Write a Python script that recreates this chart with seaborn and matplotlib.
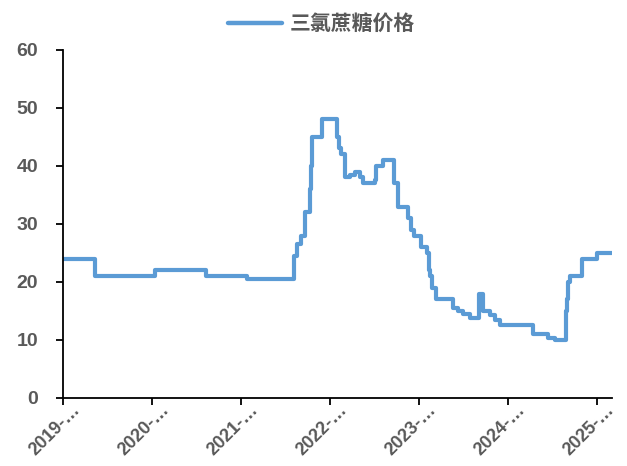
import pandas as pd
import matplotlib
matplotlib.use("Agg")
import matplotlib.pyplot as plt
import matplotlib.transforms as mtransforms
import seaborn as sns

# 三氯蔗糖价格 (万元/吨), 读自原图的台阶变化点
dates = [
    "2019-01-01", "2019-05-11", "2020-01-13", "2020-08-10", "2021-01-25",
    "2021-08-07", "2021-08-19", "2021-09-04", "2021-09-20", "2021-10-11",
    "2021-10-15", "2021-10-19", "2021-11-29", "2022-01-31", "2022-02-07",
    "2022-02-15", "2022-03-03", "2022-03-24", "2022-04-13", "2022-05-04",
    "2022-05-16", "2022-07-04", "2022-07-08", "2022-08-07", "2022-09-20",
    "2022-09-24", "2022-10-06", "2022-11-16", "2022-11-28", "2022-12-10",
    "2023-01-09", "2023-02-02", "2023-02-10", "2023-02-14", "2023-02-22",
    "2023-03-10", "2023-05-19", "2023-06-09", "2023-06-29", "2023-07-28",
    "2023-09-03", "2023-09-20", "2023-10-19", "2023-11-08", "2023-11-28",
    "2024-04-12", "2024-06-13", "2024-07-12", "2024-08-26", "2024-08-30",
    "2024-09-03", "2024-09-12", "2024-10-31", "2025-01-01", "2025-03-03",
]
prices = [
    24, 21, 22, 21, 20.5,
    24.5, 26.5, 28, 32, 36,
    40, 45, 48, 45, 43,
    42, 38, 38.5, 39, 38,
    37, 37.5, 40, 41, 37,
    37, 33, 31, 29, 28,
    26, 25, 22, 21, 19,
    17, 15.5, 15, 14.5, 13.8,
    18, 15, 14.3, 13.5, 12.5,
    11, 10.3, 10, 15, 17,
    20, 21, 24, 25, 25,
]
year_ticks = ["2019", "2020", "2021", "2022", "2023", "2024", "2025"]
y_ticks = [0, 10, 20, 30, 40, 50, 60]

df = pd.DataFrame({"date": pd.to_datetime(dates), "price": prices})

sns.set_style("white")
plt.rcParams["font.family"] = ["Liberation Sans", "DejaVu Sans"]

fig = plt.figure(figsize=(6.27, 4.66), dpi=100)
ax = fig.add_axes([0.1005, 0.146, 0.8755, 0.747])

sns.lineplot(data=df, x="date", y="price", ax=ax, color="#5B9BD5",
             linewidth=3.0, drawstyle="steps-post", label="三氯蔗糖价格")

ax.set_xlim(pd.Timestamp("2019-01-01"), pd.Timestamp("2025-03-03"))
ax.set_ylim(0, 60)
ax.set_yticks(y_ticks)
ax.set_xticks([pd.Timestamp(y + "-01-01") for y in year_ticks])
ax.set_xticklabels([y + "-…" for y in year_ticks])
ax.set_xlabel("")
ax.set_ylabel("")

sns.despine(ax=ax)
for side in ["left", "bottom"]:
    ax.spines[side].set_color("black")
    ax.spines[side].set_linewidth(1.3)
ax.tick_params(axis="both", direction="out", length=5, width=1.3,
               color="black", left=True, bottom=True)
ax.tick_params(axis="y", pad=13)
ax.tick_params(axis="x", pad=2)

# tick_params 会重置变换, 所以放在后面: 标签右移, 与原图一致
shift = mtransforms.ScaledTranslation(15 / 100, 0, fig.dpi_scale_trans)
for lab in ax.get_xticklabels():
    lab.set_fontsize(13)
    lab.set_fontweight("bold")
    lab.set_color("#595959")
    lab.set_rotation(45)
    lab.set_rotation_mode("anchor")
    lab.set_ha("right")
    lab.set_va("center")
    lab.set_transform(lab.get_transform() + shift)
for lab in ax.get_yticklabels():
    lab.set_fontsize(14)
    lab.set_fontweight("bold")
    lab.set_color("#595959")

leg = ax.legend(loc="upper center", bbox_to_anchor=(0.471, 1.16),
                frameon=False, handlelength=2.6, handletextpad=0.35,
                prop={"family": ["Noto Sans CJK SC", "DejaVu Sans"],
                      "size": 15, "weight": "bold"})
for t in leg.get_texts():
    t.set_color("#595959")
for h in leg.get_lines():
    h.set_linewidth(3.2)

fig.savefig("out.png", dpi=100)
